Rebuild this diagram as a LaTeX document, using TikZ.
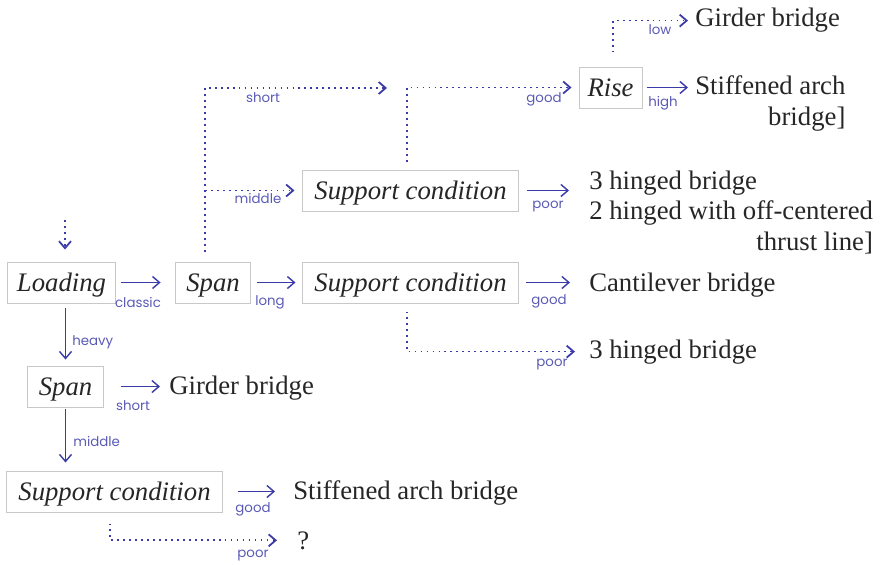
\documentclass[tikz,border=0pt]{standalone}
\usepackage{fontspec}
\setmainfont{Liberation Serif}
\newfontfamily\lblfont{Poppins}
\usetikzlibrary{arrows.meta,positioning}
\definecolor{arrblue}{RGB}{58,58,168}
\definecolor{lblblue}{RGB}{90,90,182}
\definecolor{boxgray}{RGB}{200,200,200}
\definecolor{txtgray}{RGB}{38,38,38}
\tikzset{
  cond/.style={rectangle, draw=boxgray, line width=0.7pt, minimum height=10.25mm,
               inner sep=0pt, text height=15pt, text depth=2pt,
               font=\fontsize{19}{22}\selectfont\itshape, text=txtgray},
  res/.style={inner sep=0pt, anchor=base west, font=\fontsize{19}{22}\selectfont,
              text=txtgray},
  lbl/.style={font=\lblfont\fontsize{9.5}{11}\selectfont, text=lblblue, inner sep=0pt},
  sarr/.style={draw=arrblue, line width=1pt, -{Straight Barb[length=1.75mm,width=3mm]}},
  darr/.style={sarr, line width=1.25pt, dash pattern=on 1.25pt off 3pt},
}

\begin{document}
\begin{tikzpicture}[x=0.025cm, y=-0.025cm]
\useasboundingbox (0,0) rectangle (881,565);

% ---- decision boxes ----
\node[cond, minimum width=26.75mm] (load)  at (61.5,282.5)  {Loading};
\node[cond, minimum width=18.75mm] (spanA) at (213,282.5)   {Span};
\node[cond, minimum width=53.75mm] (supA)  at (410.5,282.5) {Support condition};
\node[cond, minimum width=53.75mm] (supB)  at (410.5,190.5) {Support condition};
\node[cond, minimum width=15.75mm] (rise)  at (610.5,87.5)  {Rise};
\node[cond, minimum width=18.75mm] (spanB) at (65.5,386.5)  {Span};
\node[cond, minimum width=53.75mm] (supC)  at (114.5,491.5) {Support condition};

% ---- outcomes ----
\node[res] (girdA)  at (695,27)  {Girder bridge};
\node[res] (stiffA) at (695,95)  {\begin{tabular}[t]{@{}l@{}}Stiffened arch\\\hfill bridge]\end{tabular}};
\node[res] (hingeA) at (589,189) {\begin{tabular}[t]{@{}l@{}}3 hinged bridge\\2 hinged with off-centered\\\hfill thrust line]\end{tabular}};
\node[res] (canti)  at (589,291) {Cantilever bridge};
\node[res] (hingeB) at (589,358) {3 hinged bridge};
\node[res] (girdB)  at (169,394) {Girder bridge};
\node[res] (stiffB) at (293,499) {Stiffened arch bridge};
\node[res] (unk)    at (297,549) {?};

% ---- free ends ----
\coordinate (entry) at (65,220);
\coordinate (spanup) at ([xshift=-2mm,yshift=2.5mm]spanA.north);
\coordinate (shortend) at (387,88);

% ---- solid branches ----
\draw[sarr, shorten <=1.25mm, shorten >=3.6mm] (load) -- (spanA);
\draw[sarr, shorten <=1.6mm, shorten >=1.75mm] (spanA) -- (supA);
\draw[sarr, shorten <=1.75mm, shorten >=4.75mm] (supA) -- (supA -| canti.west);
\draw[sarr, shorten <=2mm, shorten >=5mm] (supB) -- (supB -| hingeA.west);
\draw[sarr, shorten <=1mm, shorten >=1.75mm] (rise) -- (rise -| stiffA.west);
\draw[sarr, shorten <=4.25mm, shorten >=2.25mm] (spanB) -- (spanB -| girdB.west);
\draw[sarr, shorten <=3.75mm, shorten >=4.5mm] (supC) -- (supC -| stiffB.west);
\draw[sarr, shorten <=1mm, shorten >=1.5mm] (load.south -| spanB) -- (spanB);
\draw[sarr, shorten <=0.25mm, shorten >=2mm] (spanB) -- (spanB |- supC.north);

% ---- dotted branches ----
\draw[darr, shorten >=3mm] (entry) -- (entry |- load.north);
\draw[darr] (spanup) |- (shortend);
\draw[darr, shorten >=2mm] (spanup |- supB) -- (supB.west);
\draw[darr, shorten >=1.75mm] ([xshift=-0.9mm,yshift=2mm]supB.north) |- (rise.west);
\draw[darr, shorten >=1.75mm] ([xshift=0.6mm,yshift=3.5mm]rise.north) |- (girdA.west);
\draw[darr, shorten >=3.5mm] ([xshift=-0.9mm,yshift=-2mm]supA.south) |- (hingeB.west);
\draw[darr, shorten >=5mm] ([xshift=-1.1mm,yshift=-2.75mm]supC.south) |- (unk.west);

% ---- branch labels ----
\node[lbl] (lclassic) at (138,302) {classic};
\node[lbl] (llong)    at (270,302) {long};
\node[lbl] (lgoodA)   at (549,301) {good};
\node[lbl] (lpoorA)   at (548,207) {poor};
\node[lbl] (lhigh)    at (663,103) {high};
\node[lbl] (llow)     at (660,30)  {low};
\node[lbl] (lgoodB)   at (544,99)  {good};
\node[lbl] (lshortA)  at (263,98)  {short};
\node[lbl] (lmidA)    at (258,198) {middle};
\node[lbl] (lpoorB)   at (552,365) {poor};
\node[lbl, anchor=west] (lheavy) at (72,342) {heavy};
\node[lbl] (lshortB)  at (133,406) {short};
\node[lbl, anchor=west] (lmidB)  at (73,441) {middle};
\node[lbl] (lgoodC)   at (253,509) {good};
\node[lbl] (lpoorC)   at (253,556) {poor};
\end{tikzpicture}
\end{document}
